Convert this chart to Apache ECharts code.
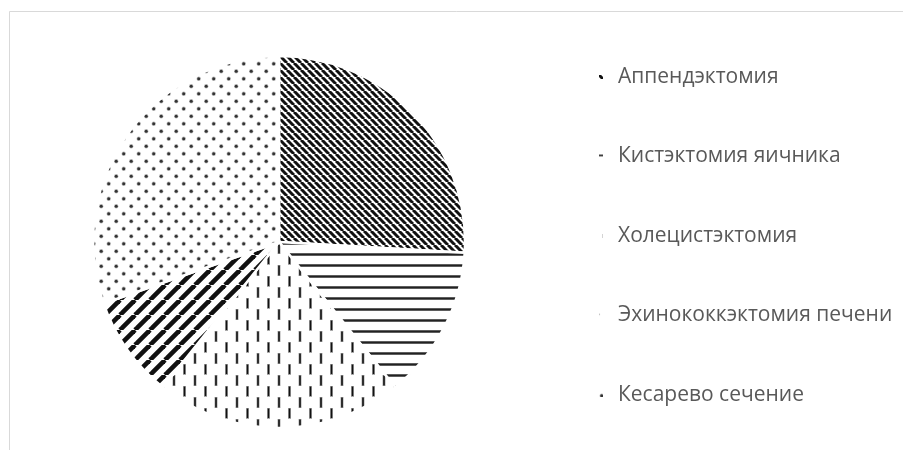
<!DOCTYPE html>
<html>
<head>
<meta charset="utf-8">
<script src="https://cdn.jsdelivr.net/npm/echarts@6/dist/echarts.min.js"></script>
<style>
  html, body { margin: 0; padding: 0; background: #fff; }
  #chart { width: 903px; height: 450px; }
</style>
</head>
<body>
<div id="chart"></div>
<script>
// Operation types and their counts
const categories = [
  'Аппендэктомия',
  'Кистэктомия яичника',
  'Холецистэктомия',
  'Эхинококкэктомия печени',
  'Кесарево сечение'
];
const values = [35, 18, 29, 12, 41];

// Hatch fills, one per slice
function tile(w, h, draw) {
  const c = document.createElement('canvas');
  c.width = w; c.height = h;
  const ctx = c.getContext('2d');
  ctx.fillStyle = '#fff';
  ctx.fillRect(0, 0, w, h);
  draw(ctx, w, h);
  return { image: c, repeat: 'repeat' };
}

function diagDown(s, lw) {          // "\" stripes
  return tile(s, s, (ctx) => {
    ctx.strokeStyle = '#111';
    ctx.lineWidth = lw;
    for (const o of [-s, 0, s]) {
      ctx.beginPath();
      ctx.moveTo(o, 0);
      ctx.lineTo(o + s, s);
      ctx.stroke();
    }
  });
}

function diagUp(s, lw) {            // "/" stripes
  return tile(s, s, (ctx) => {
    ctx.strokeStyle = '#111';
    ctx.lineWidth = lw;
    for (const o of [-s, 0, s]) {
      ctx.beginPath();
      ctx.moveTo(o, s);
      ctx.lineTo(o + s, 0);
      ctx.stroke();
    }
  });
}

function horizontal(h, lw) {
  return tile(8, h, (ctx) => {
    ctx.fillStyle = '#999';
    ctx.fillRect(0, 0, 8, lw + 1);
    ctx.fillStyle = '#222';
    ctx.fillRect(0, 0.5, 8, lw);
  });
}

function vDashes() {
  return tile(21, 22, (ctx) => {
    ctx.fillStyle = '#aaa';
    ctx.fillRect(4.5, 1, 3, 11);
    ctx.fillRect(15, 12, 3, 10);
    ctx.fillRect(15, 0, 3, 1);
    ctx.fillStyle = '#111';
    ctx.fillRect(5.2, 1.5, 1.6, 10);
    ctx.fillRect(15.7, 12.5, 1.6, 9.5);
  });
}

function dots() {
  return tile(15, 15, (ctx) => {
    for (const [x, y] of [[3.7, 3.7], [11.2, 11.2]]) {
      ctx.fillStyle = '#bbb';
      ctx.beginPath();
      ctx.arc(x, y, 2.2, 0, Math.PI * 2);
      ctx.fill();
      ctx.fillStyle = '#333';
      ctx.beginPath();
      ctx.arc(x, y, 1.5, 0, Math.PI * 2);
      ctx.fill();
    }
  });
}

const fills = [
  diagDown(7, 3),
  horizontal(11, 2),
  vDashes(),
  diagUp(15, 4.6),
  dots()
];

const chart = echarts.init(document.getElementById('chart'), null, { renderer: 'canvas' });

chart.setOption({
  animation: false,
  backgroundColor: '#fff',
  graphic: [{
    type: 'rect',
    shape: { x: 9.5, y: 11.5, width: 1000, height: 1000 },
    style: { fill: 'none', stroke: '#d9d9d9', lineWidth: 1 },
    silent: true,
    z: -1
  }],
  legend: {
    orient: 'vertical',
    left: 597,
    top: 66,
    padding: 0,
    itemWidth: 6,
    itemHeight: 6,
    itemGap: 57.5,
    icon: 'rect',
    textStyle: {
      color: '#595959',
      fontSize: 21,
      lineHeight: 22,
      fontFamily: 'Open Sans',
      padding: [0, 0, 0, 9]
    },
    data: categories
  },
  series: [{
    type: 'pie',
    center: [279, 242],
    radius: 186,
    startAngle: 90,
    clockwise: true,
    label: { show: false },
    labelLine: { show: false },
    emphasis: { disabled: true },
    itemStyle: { borderColor: '#fff', borderWidth: 2.5 },
    data: categories.map((name, i) => ({
      name,
      value: values[i],
      itemStyle: { color: fills[i] }
    }))
  }]
});
</script>
</body>
</html>
